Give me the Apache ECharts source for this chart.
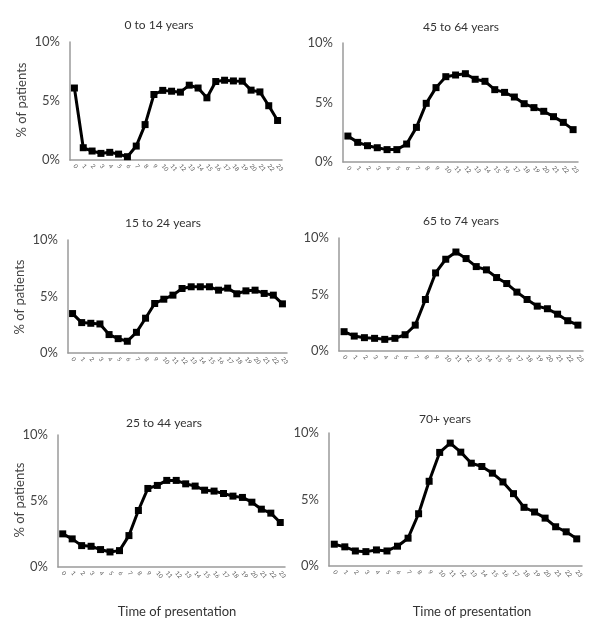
<!DOCTYPE html>
<html>
<head>
<meta charset="utf-8">
<script src="https://cdn.jsdelivr.net/npm/echarts@6/dist/echarts.min.js"></script>
<style>html,body{margin:0;padding:0;background:#fff}#c{width:600px;height:638px}</style>
</head>
<body>
<div id="c"></div>
<script>
var hours = ['0','1','2','3','4','5','6','7','8','9','10','11','12','13','14','15','16','17','18','19','20','21','22','23'];
var yTicks = [0, 5, 10];
var titles = ['0 to 14 years','45 to 64 years','15 to 24 years','65 to 74 years','25 to 44 years','70+ years'];
var age0to14  = [6.1,1.04,0.76,0.56,0.65,0.5,0.28,1.18,3.0,5.55,5.9,5.83,5.75,6.34,6.1,5.27,6.65,6.76,6.7,6.68,5.92,5.77,4.6,3.35];
var age45to64 = [2.18,1.65,1.37,1.2,1.04,1.04,1.51,2.91,4.93,6.25,7.17,7.31,7.42,6.95,6.78,6.08,5.85,5.46,4.9,4.57,4.26,3.81,3.33,2.72];
var age15to24 = [3.49,2.69,2.63,2.57,1.63,1.27,1.04,1.83,3.08,4.38,4.76,5.12,5.71,5.86,5.86,5.86,5.56,5.74,5.24,5.5,5.56,5.27,5.12,4.35];
var age65to74 = [1.71,1.32,1.18,1.12,1.03,1.12,1.44,2.29,4.56,6.91,8.12,8.76,8.18,7.47,7.18,6.5,5.97,5.21,4.56,3.97,3.74,3.26,2.68,2.29];
var age25to44 = [2.51,2.13,1.62,1.57,1.32,1.14,1.24,2.38,4.28,5.95,6.18,6.56,6.56,6.3,6.13,5.82,5.75,5.57,5.37,5.27,4.91,4.38,4.08,3.37];
var age70plus = [1.64,1.44,1.13,1.08,1.21,1.13,1.49,2.09,3.93,6.37,8.54,9.24,8.56,7.73,7.48,6.98,6.32,5.44,4.41,4.06,3.6,2.95,2.57,2.04];
var yLabel = '% of patients';
var xLabel = 'Time of presentation';

var seriesData = [age0to14, age45to64, age15to24, age65to74, age25to44, age70plus];
var grids = [
  {left:70, right:318, top:42, bottom:478},
  {left:343, right:22, top:43, bottom:476},
  {left:68, right:313, top:240, bottom:285},
  {left:339, right:17, top:238, bottom:287},
  {left:58, right:315, top:435, bottom:71},
  {left:329, right:18, top:433, bottom:72}
];
var titlePos = [[159,25],[461,27],[163,223],[461,221],[164,423],[445,419]];
var yNamePos = [[22,100],null,[20,297],null,[20,500],null];
var xNamePos = [null,null,null,null,[177,612],[472,612]];
var FONT = 'Lato, "Open Sans", sans-serif';

var xAxes = [], yAxes = [], series = [], graphics = [];
for (var i = 0; i < 6; i++) {
  xAxes.push({
    type:'category', gridIndex:i, data:hours, boundaryGap:true,
    axisLine:{lineStyle:{color:'#9a9a9a', width:1.5}},
    axisTick:{show:false},
    axisLabel:{rotate:-50, fontSize:6, color:'#555', interval:0, margin:5, fontFamily:FONT}
  });
  yAxes.push({
    type:'value', gridIndex:i, min:yTicks[0], max:yTicks[yTicks.length-1], interval:yTicks[1]-yTicks[0],
    axisLine:{show:true, lineStyle:{color:'#9a9a9a', width:1.5}},
    axisTick:{show:false},
    splitLine:{show:false},
    axisLabel:{formatter:'{value}%', fontSize:13, color:'#444', margin:10, fontFamily:FONT}
  });
  series.push({
    type:'line', xAxisIndex:i, yAxisIndex:i, data:seriesData[i],
    symbol:'rect', symbolSize:7, showSymbol:true,
    lineStyle:{color:'#000', width:3},
    itemStyle:{color:'#000'},
    animation:false
  });
  graphics.push({type:'text', x:titlePos[i][0], y:titlePos[i][1],
    style:{text:titles[i], font:'12px ' + FONT, fill:'#333', textAlign:'center', textVerticalAlign:'middle'}});
  if (yNamePos[i]) {
    graphics.push({type:'text', x:yNamePos[i][0], y:yNamePos[i][1], rotation:Math.PI/2,
      style:{text:yLabel, font:'13px ' + FONT, fill:'#444', textAlign:'center', textVerticalAlign:'middle'}});
  }
  if (xNamePos[i]) {
    graphics.push({type:'text', x:xNamePos[i][0], y:xNamePos[i][1],
      style:{text:xLabel, font:'13px ' + FONT, fill:'#333', textAlign:'center', textVerticalAlign:'middle'}});
  }
}

var chart = echarts.init(document.getElementById('c'), null, {renderer:'canvas'});
chart.setOption({
  backgroundColor:'#fff',
  animation:false,
  grid:grids,
  xAxis:xAxes,
  yAxis:yAxes,
  series:series,
  graphic:graphics
});
</script>
</body>
</html>
